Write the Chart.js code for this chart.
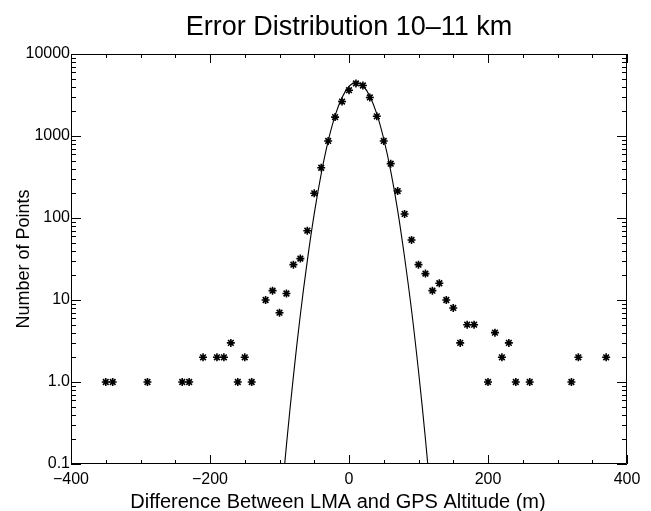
<!DOCTYPE html>
<html>
<head>
<meta charset="utf-8">
<title>Error Distribution 10-11 km</title>
<script src="https://cdn.jsdelivr.net/npm/chart.js@4.4.1/dist/chart.umd.min.js"></script>
<style>
  html, body { margin: 0; padding: 0; background: #fff; }
</style>
</head>
<body>
<canvas id="myChart" width="651" height="511"></canvas>
<script>
// histogram: bin centre (m) and number of points in the bin
const binX = [-350, -340, -290, -240, -230, -210, -190, -180, -170, -160, -150, -140,
  -120, -110, -100, -90, -80, -70, -60, -50, -40, -30, -20, -10, 0, 10, 20, 30, 40,
  50, 60, 70, 80, 90, 100, 110, 120, 130, 140, 150, 160, 170, 180, 200, 210, 220,
  230, 240, 260, 320, 330, 370];
const binCount = [1, 1, 1, 1, 1, 2, 2, 2, 3, 1, 2, 1,
  10, 13, 7, 12, 27, 32, 70, 200, 410, 870, 1700, 2630, 3620, 4370, 4130, 2950, 1740,
  870, 460, 213, 112, 54, 27, 21, 13, 16, 10, 8, 3, 5, 5, 1, 4, 2,
  3, 1, 1, 1, 2, 2];

// gaussian fit line
const fitX = [-100, -90, -80, -70, -60, -50, -40, -30, -20, -10, 0, 10, 20, 30, 40,
  50, 60, 70, 80, 90, 100, 110, 120];
const fitY = [0.02, 0.17, 1.17, 6.6, 30, 113, 345, 865, 1770, 2950, 4030, 4500, 4100,
  3050, 1860, 920, 375, 124, 33, 7.5, 1.36, 0.2, 0.024];

const xTickValues = [-400, -200, 0, 200, 400];
const xTickLabels = ['\u2212400', '\u2212200', '0', '200', '400'];
const yTickValues = [0.1, 1, 10, 100, 1000, 10000];
const yTickLabels = ['0.1', '1.0', '10', '100', '1000', '10000'];

const xTitle = 'Difference Between LMA and GPS Altitude (m)';

const FONT = "'Liberation Sans', Arial, Helvetica, sans-serif";

// IDL style box: axes on all four sides, ticks pointing inwards
const idlAxes = {
  id: 'idlAxes',
  afterDraw(chart) {
    const {ctx, chartArea: a, scales: {x, y}} = chart;
    ctx.save();
    ctx.strokeStyle = '#000';
    ctx.lineWidth = 1;
    ctx.beginPath();
    ctx.rect(a.left + 0.5, a.top + 0.5, a.right - a.left - 1, a.bottom - a.top - 1);

    // x ticks, major every 200, minor every 50
    for (let v = -400; v <= 400; v += 50) {
      const px = Math.round(x.getPixelForValue(v)) + 0.5;
      const len = v % 200 === 0 ? 9 : 4;
      ctx.moveTo(px, a.bottom);
      ctx.lineTo(px, a.bottom - len);
      ctx.moveTo(px, a.top);
      ctx.lineTo(px, a.top + len);
    }
    // y ticks, major per decade, minor at 2..9
    for (let d = 0.1; d < 10000; d *= 10) {
      for (let m = 1; m <= 10; m++) {
        const py = Math.round(y.getPixelForValue(d * m)) + 0.5;
        const len = (m === 1 || m === 10) ? 10 : 5;
        ctx.moveTo(a.left, py);
        ctx.lineTo(a.left + len, py);
        ctx.moveTo(a.right, py);
        ctx.lineTo(a.right - len, py);
      }
    }
    ctx.stroke();

    // x axis title sits a little left of the plot centre in the original
    ctx.fillStyle = '#000';
    ctx.font = '20px ' + FONT;
    ctx.textAlign = 'center';
    ctx.textBaseline = 'alphabetic';
    ctx.fillText(xTitle, 338, 508);
    ctx.restore();
  }
};

const ctx = document.getElementById('myChart').getContext('2d');
const myChart = new Chart(ctx, {
  type: 'scatter',
  data: {
    datasets: [{
      label: 'fit',
      data: fitX.map((v, i) => ({x: v, y: fitY[i]})),
      showLine: true,
      borderColor: '#000',
      borderWidth: 1.1,
      pointRadius: 0,
      tension: 0.4,
      fill: false
    }, {
      label: 'counts',
      data: binX.map((v, i) => ({x: v, y: binCount[i]})),
      showLine: false,
      pointStyle: 'star',
      pointRadius: 4,
      borderColor: '#000',
      backgroundColor: '#000',
      borderWidth: 1.6
    }]
  },
  options: {
    responsive: false,
    animation: false,
    events: [],
    layout: { padding: { left: 0, right: 24, top: 0, bottom: 0 } },
    elements: { line: { capBezierPoints: false } },
    plugins: {
      legend: { display: false },
      tooltip: { enabled: false },
      title: {
        display: true,
        fullSize: false,
        text: 'Error Distribution 10\u201311 km',
        color: '#000',
        font: { family: FONT, size: 27, weight: 'normal', lineHeight: 1.2 },
        padding: { top: 11.5, bottom: 10.1 }
      }
    },
    scales: {
      x: {
        type: 'linear',
        min: -400,
        max: 400,
        grid: { display: false, drawTicks: false },
        border: { display: false },
        afterBuildTicks: (scale) => { scale.ticks = xTickValues.map(v => ({value: v})); },
        afterFit: (scale) => { scale.height = 47; },
        ticks: {
          color: '#000',
          padding: 6,
          maxRotation: 0,
          font: { family: FONT, size: 16 },
          callback: (v, i) => xTickLabels[i]
        }
      },
      y: {
        type: 'logarithmic',
        min: 0.1,
        max: 10000,
        grid: { display: false, drawTicks: false },
        border: { display: false },
        afterBuildTicks: (scale) => { scale.ticks = yTickValues.map(v => ({value: v})); },
        afterFit: (scale) => { scale.width = 71; },
        ticks: {
          color: '#000',
          padding: 1,
          font: { family: FONT, size: 16 },
          callback: (v, i) => yTickLabels[i]
        },
        title: {
          display: true,
          text: 'Number of Points',
          color: '#000',
          font: { family: FONT, size: 18 },
          padding: { top: 13, bottom: 0 }
        }
      }
    }
  },
  plugins: [idlAxes]
});
</script>
</body>
</html>
